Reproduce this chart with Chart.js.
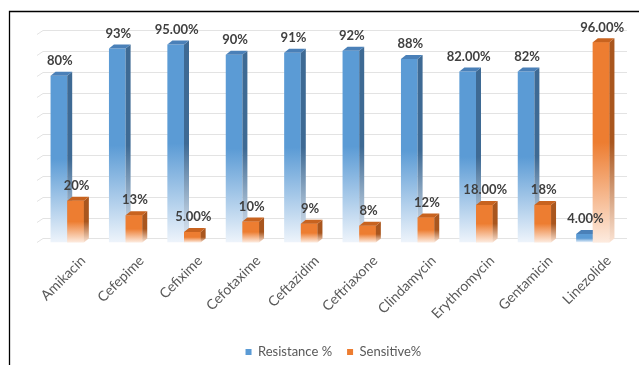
<!DOCTYPE html>
<html>
<head>
<meta charset="utf-8">
<script src="https://cdn.jsdelivr.net/npm/chart.js@4"></script>
<style>
  html, body { margin: 0; padding: 0; background: #fff; }
  #wrap { width: 639px; height: 365px; }
</style>
</head>
<body>
<div id="wrap"><canvas id="chart" width="639" height="365"></canvas></div>
<script>
// antibiotics on the x axis
const drugs = ['Amikacin', 'Cefepime', 'Cefixime', 'Cefotaxime', 'Ceftazidim',
  'Ceftriaxone', 'Clindamycin', 'Erythromycin', 'Gentamicin', 'Linezolide'];

// values (%)
const resistance = [80, 93, 95, 90, 91, 92, 88, 82, 82, 4];
const sensitive = [20, 13, 5, 10, 9, 8, 12, 18, 18, 96];

// data labels exactly as printed on the chart
const resistanceLabels = ['80%', '93%', '95.00%', '90%', '91%', '92%', '88%', '82.00%', '82%', '4.00%'];
const sensitiveLabels = ['20%', '13%', '5.00%', '10%', '9%', '8%', '12%', '18.00%', '18%', '96.00%'];

const yTicks = [0, 10, 20, 30, 40, 50, 60, 70, 80, 90, 100];

const BLUE = '#5B9BD5', BLUE_LIGHT = '#EEF4FB', BLUE_SIDE = '#3E6A94', BLUE_TOP = '#4A80B8';
const ORANGE = '#ED7D31', ORANGE_LIGHT = '#FDEBDF', ORANGE_SIDE = '#A9561E', ORANGE_TOP = '#C8631F';
const DX = 5, DY = 4; // 3d depth

// vertical fade like the excel bars: solid top half, light at the base
function barFill(solid, light) {
  return (c) => {
    const chart = c.chart;
    if (!chart.chartArea || c.raw == null) return solid;
    const y = chart.scales.y;
    const top = y.getPixelForValue(c.raw), bottom = y.getPixelForValue(0);
    if (bottom - top < 1) return solid;
    const g = chart.ctx.createLinearGradient(0, top, 0, bottom);
    g.addColorStop(0, solid);
    g.addColorStop(0.5, solid);
    g.addColorStop(1, light);
    return g;
  };
}

// white page with the black frame of the screenshot
const framePlugin = {
  id: 'frame',
  beforeDraw(chart) {
    const ctx = chart.ctx;
    ctx.save();
    ctx.fillStyle = '#fff';
    ctx.fillRect(0, 0, chart.width, chart.height);
    ctx.strokeStyle = '#000';
    ctx.lineWidth = 1.3;
    ctx.beginPath();
    ctx.moveTo(9.5, chart.height + 2);
    ctx.lineTo(9.5, 11.5);
    ctx.lineTo(chart.width + 2, 11.5);
    ctx.stroke();
    ctx.restore();
  }
};

// back wall gridlines, shifted by the 3d depth
const wallPlugin = {
  id: 'wall',
  beforeDatasetsDraw(chart) {
    const ctx = chart.ctx, y = chart.scales.y, a = chart.chartArea;
    ctx.save();
    ctx.strokeStyle = '#E3E3E3';
    ctx.lineWidth = 1;
    yTicks.forEach(v => {
      const py = Math.round(y.getPixelForValue(v)) + 0.5;
      ctx.beginPath();
      ctx.moveTo(a.left - 1, py);
      ctx.lineTo(a.left + DX, py - DY);
      ctx.lineTo(a.right + DX, py - DY);
      ctx.stroke();
    });
    ctx.restore();
  }
};

function drawFaces(ctx, bar, side, top, light) {
  const { x, y, base, width } = bar.getProps(['x', 'y', 'base', 'width'], true);
  const l = x - width / 2, r = x + width / 2;
  let g = side;
  if (base - y > 1) {
    g = ctx.createLinearGradient(0, y, 0, base);
    g.addColorStop(0, side);
    g.addColorStop(0.5, side);
    g.addColorStop(1, light);
  }
  ctx.fillStyle = g;
  ctx.beginPath();
  ctx.moveTo(r, y);
  ctx.lineTo(r + DX, y - DY);
  ctx.lineTo(r + DX, base - DY);
  ctx.lineTo(r, base);
  ctx.closePath();
  ctx.fill();
  ctx.fillStyle = top;
  ctx.beginPath();
  ctx.moveTo(l, y);
  ctx.lineTo(l + DX, y - DY);
  ctx.lineTo(r + DX, y - DY);
  ctx.lineTo(r, y);
  ctx.closePath();
  ctx.fill();
}

// side and top faces; the orange front is drawn again so it hides the blue side face
const depthPlugin = {
  id: 'depth',
  afterDatasetsDraw(chart) {
    const ctx = chart.ctx;
    const blue = chart.getDatasetMeta(0).data;
    const orange = chart.getDatasetMeta(1).data;
    ctx.save();
    blue.forEach((b, i) => {
      drawFaces(ctx, b, BLUE_SIDE, BLUE_TOP, '#E6EEF7');
      orange[i].draw(ctx, chart.chartArea);
      drawFaces(ctx, orange[i], ORANGE_SIDE, ORANGE_TOP, '#FBE3D3');
    });
    ctx.restore();

    // value labels above the bars
    ctx.save();
    ctx.font = 'bold 13px Lato';
    ctx.fillStyle = '#404040';
    ctx.textAlign = 'center';
    ctx.textBaseline = 'middle';
    [resistanceLabels, sensitiveLabels].forEach((labels, di) => {
      chart.getDatasetMeta(di).data.forEach((bar, i) => {
        ctx.fillText(labels[i], bar.x + 1, bar.y - 15);
      });
    });
    ctx.restore();
  }
};

// wider gap between the two legend items than the vertical padding
const legendGap = {
  id: 'legendGap',
  afterLayout(chart) {
    chart.legend.options.labels.padding = 15;
  }
};

const ctx = document.getElementById('chart').getContext('2d');
const myChart = new Chart(ctx, {
  type: 'bar',
  data: {
    labels: drugs,
    datasets: [{
      label: 'Resistance %',
      data: resistance,
      backgroundColor: barFill(BLUE, BLUE_LIGHT),
      borderWidth: 0
    }, {
      label: 'Sensitive%',
      data: sensitive,
      backgroundColor: barFill(ORANGE, ORANGE_LIGHT),
      borderWidth: 0
    }]
  },
  options: {
    responsive: false,
    animation: false,
    categoryPercentage: 0.57,
    barPercentage: 1,
    layout: { padding: { left: 38, right: 17, top: 34, bottom: 0 } },
    scales: {
      x: {
        grid: { display: false, drawTicks: false },
        border: { display: false },
        ticks: {
          color: '#595959',
          font: { family: 'Lato', size: 14 },
          minRotation: 45,
          maxRotation: 45,
          labelOffset: 16,
          padding: 10
        },
        afterFit(scale) { scale.height = 88; scale.paddingLeft = 0; scale.paddingRight = 0; }
      },
      y: {
        display: false,
        min: 0,
        max: 100
      }
    },
    plugins: {
      legend: {
        position: 'bottom',
        labels: {
          color: '#595959',
          font: { family: 'Lato', size: 13 },
          boxWidth: 6,
          boxHeight: 6,
          padding: 11.6,
          generateLabels(chart) {
            return Chart.defaults.plugins.legend.labels.generateLabels(chart).map(item => {
              item.fillStyle = item.datasetIndex === 0 ? BLUE : ORANGE;
              item.strokeStyle = 'transparent';
              item.lineWidth = 0;
              return item;
            });
          }
        }
      },
      tooltip: { enabled: false }
    }
  },
  plugins: [framePlugin, wallPlugin, depthPlugin, legendGap]
});
</script>
</body>
</html>
